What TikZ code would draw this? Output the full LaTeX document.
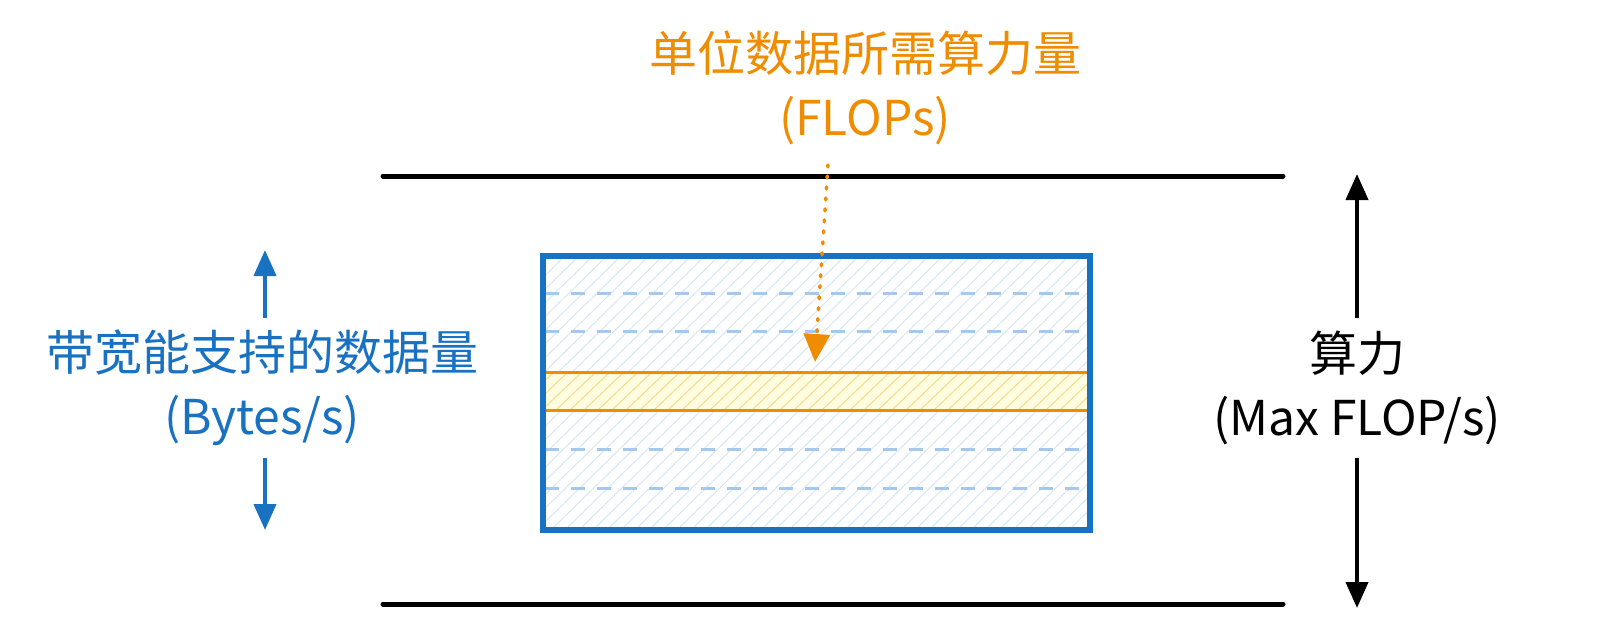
\documentclass[tikz,border=0pt]{standalone}
\usepackage{fontspec}
\setmainfont{Noto Sans CJK SC}
\usetikzlibrary{arrows.meta}
\definecolor{bl}{HTML}{1971C2}
\definecolor{lb}{HTML}{A5C8EC}
\definecolor{hb}{HTML}{D6E6F5}
\definecolor{og}{HTML}{F08C00}
\definecolor{yl}{HTML}{F5D98A}
\begin{document}
\begin{tikzpicture}[x=1pt,y=-1pt,
  bar/.style={line width=5pt,line cap=round},
  tip/.style={-{Triangle[length=26pt,width=22pt]}},
  lbl/.style={font=\fontsize{48}{64}\selectfont,align=center}]
\useasboundingbox (0,0) rectangle (1606,640);
\coordinate (t1) at (383,176); \coordinate (t2) at (1283,176);
\coordinate (b1) at (383,604); \coordinate (b2) at (1283,604);
\draw[bar] (t1) -- (t2);
\draw[bar] (b1) -- (b2);
\begin{scope}
\clip (540,253) rectangle (1087,527);
\foreach \i in {0,14,...,850} \draw[hb,line width=1pt] (540+\i-280,527) -- (540+\i,253);
\end{scope}
\begin{scope}
\clip (540,372) rectangle (1087,410);
\fill[yellow!12] (540,372) rectangle (1087,410);
\foreach \i in {0,14,...,600} \draw[yl,line width=1pt] (540+\i-40,410) -- (540+\i,372);
\end{scope}
\foreach \y in {293,331,449,488} \draw[lb,line width=3pt,dash pattern=on 14pt off 12pt] (545,\y) -- (1082,\y);
\draw[og,line width=3pt] (540,372) -- (1087,372);
\draw[og,line width=3pt] (540,410) -- (1087,410);
\node[draw=bl,line width=6pt,minimum width=547pt,minimum height=274pt,anchor=north west,inner sep=0pt] (box) at (540,253) {};
\node[lbl,text=og] (ft) at (865,88) {单位数据所需算力量\\(FLOPs)};
\coordinate (fa) at (828,165);
\coordinate (fb) at (815,362);
\draw[og,line width=3.5pt,dash pattern=on 2pt off 9pt,line cap=round,-{Triangle[length=28pt,width=26pt]}] (fa) -- (fb);
\node[lbl,text=bl] (bw) at (262,388) {带宽能支持的数据量\\(Bytes/s)};
\coordinate (lu) at (265,250); \coordinate (ld) at (265,530);
\draw[bl,line width=4pt,tip] (265,318) -- (lu);
\draw[bl,line width=4pt,tip] (265,458) -- (ld);
\node[lbl] (cp) at (1357,388) {算力\\(Max FLOP/s)};
\coordinate (ru) at (1357,174); \coordinate (rd) at (1357,608);
\draw[line width=4pt,tip] (1357,318) -- (ru);
\draw[line width=4pt,tip] (1357,458) -- (rd);
\end{tikzpicture}
\end{document}
